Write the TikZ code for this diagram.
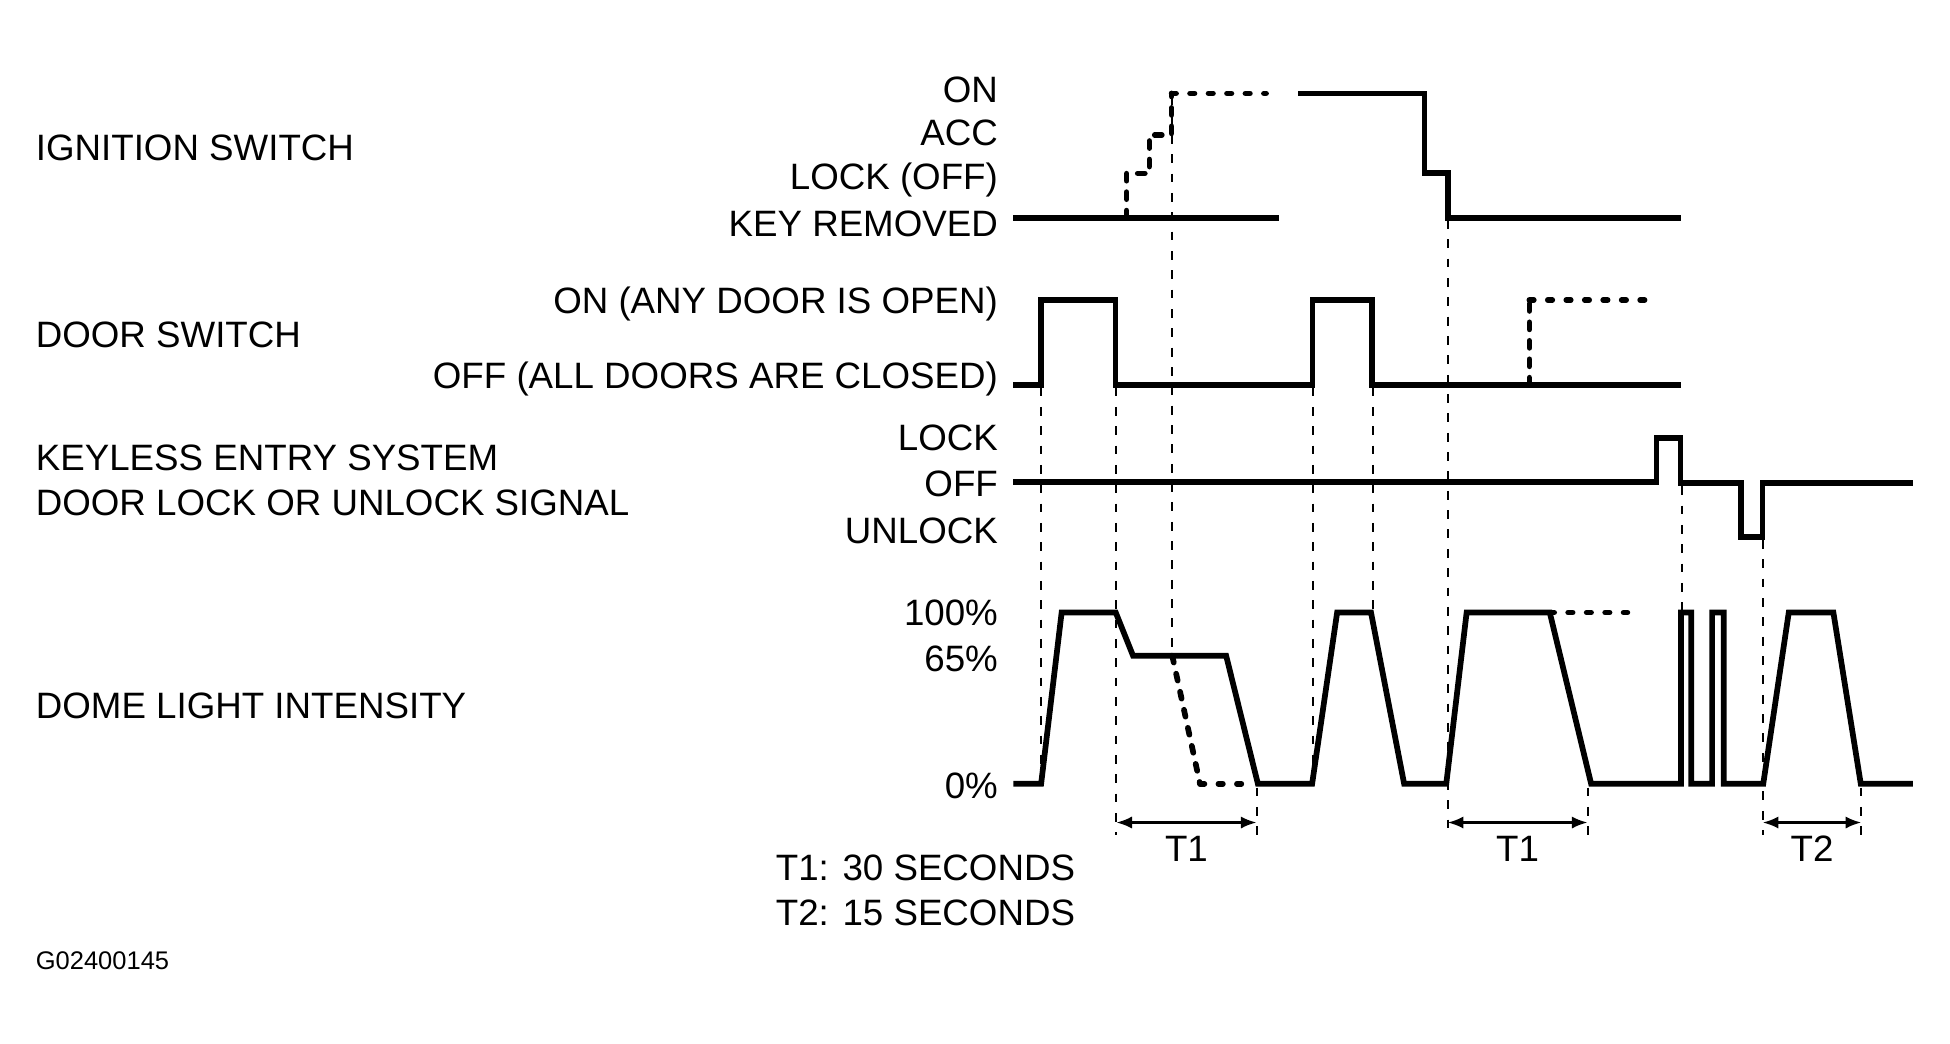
\documentclass[tikz,border=0pt]{standalone}
\usepackage{fontspec}
\setmainfont{Liberation Sans}
\usetikzlibrary{arrows.meta}
\tikzset{
  >={Latex[length=3.6pt,width=2.8pt]},
  signal/.style={line width=1.3pt, line join=miter},
  dashsig/.style={signal, line cap=round, dash pattern=on 1.6pt off 2.6pt},
  dotsig/.style={signal, line cap=round, dash pattern=on 1pt off 3.2pt},
  guide/.style={line width=0.5pt, dash pattern=on 2pt off 2.4pt},
  dimline/.style={line width=0.6pt, <->},
  lbl/.style={font=\fontsize{8.35}{10}\selectfont, inner sep=0pt, text height=5.98pt, text depth=0pt},
  rlbl/.style={lbl, anchor=east},
  llbl/.style={lbl, anchor=west},
}

\begin{document}
\begin{tikzpicture}[x=0.01cm, y=-0.01cm]
  \useasboundingbox (0,0) rectangle (1560,835);

  % signal names
  \node[llbl] (ign) at (28,118) {IGNITION SWITCH};
  \node[llbl] (door) at (28,267.8) {DOOR SWITCH};
  \node[llbl] (keyless) at (28,365.8) {KEYLESS ENTRY SYSTEM};
  \node[llbl] (lockunlock) at (28,402) {DOOR LOCK OR UNLOCK SIGNAL};
  \node[llbl] (dome) at (28,564) {DOME LIGHT INTENSITY};

  % levels
  \node[rlbl] (ign-on) at (799,71.5) {ON};
  \node[rlbl] (ign-acc) at (799,106.2) {ACC};
  \node[rlbl] (ign-lock) at (799,140.8) {LOCK (OFF)};
  \node[rlbl] (ign-key) at (799,178.5) {KEY REMOVED};
  \node[rlbl] (door-on) at (799,240.5) {ON (ANY DOOR IS OPEN)};
  \node[rlbl] (door-off) at (799,300.5) {OFF (ALL DOORS ARE CLOSED)};
  \node[rlbl] (kl-lock) at (799,349.5) {LOCK};
  \node[rlbl] (kl-off) at (799,386.5) {OFF};
  \node[rlbl] (kl-unlock) at (799,424.5) {UNLOCK};
  \node[rlbl] (dome-full) at (799,489.5) {100\%};
  \node[rlbl] (dome-mid) at (799,527) {65\%};
  \node[rlbl] (dome-zero) at (799,628) {0\%};

  % ignition switch
  \draw[signal] (810.7,174.1) -- (1023.5,174.1);
  \draw[dashsig] (901.3,174.1) -- (901.3,138.7) -- (919.5,138.7) -- (919.5,108) -- (937.3,108) -- (937.3,74.7);
  \draw[dotsig] (937.3,74.7) -- (1012.8,74.7);
  \draw[signal] (1038.7,74.7) -- (1139.5,74.7) -- (1139.5,138.4) -- (1158.4,138.4) -- (1158.4,174.1) -- (1344.5,174.1);

  % door switch
  \draw[signal] (810.7,307.8) -- (832.8,307.8) -- (832.8,240) -- (892.5,240) -- (892.5,307.8)
    -- (1049.9,307.8) -- (1049.9,240) -- (1097.8,240) -- (1097.8,307.8) -- (1344.5,307.8);
  \draw[dashsig] (1223.5,307.8) -- (1223.5,240);
  \draw[dotsig] (1223.5,240) -- (1325.3,240);

  % keyless entry
  \draw[signal] (810.7,385.3) -- (1325.3,385.3) -- (1325.3,350.1) -- (1344.5,350.1) -- (1344.5,386.5)
    -- (1392.8,386.5) -- (1392.8,429.3) -- (1410.1,429.3) -- (1410.1,386.5) -- (1530.3,386.5);

  % dome light
  \draw[signal] (810.7,627) -- (832.9,627) -- (849.3,490) -- (892.6,490) -- (906.4,524.5)
    -- (980.9,524.5) -- (1006.3,627) -- (1049.7,627) -- (1069.7,490) -- (1096.8,490)
    -- (1123.3,627) -- (1157,627) -- (1173.3,490) -- (1239.8,490) -- (1272.9,627)
    -- (1344.8,627) -- (1344.8,490) -- (1353,490) -- (1353,627) -- (1369.7,627)
    -- (1369.7,490) -- (1379,490) -- (1379,627) -- (1410.6,627) -- (1431,490)
    -- (1466.7,490) -- (1488.6,627) -- (1530.3,627);
  \draw[dashsig] (937.8,524.5) -- (960,627);
  \draw[dotsig] (960,627) -- (1000.4,627);
  \draw[dotsig] (1239.8,490) -- (1301.9,490);

  % guides
  \draw[guide] (832.8,310) -- (832.8,627);
  \draw[guide] (893,310) -- (893,668);
  \draw[guide] (937.3,77) -- (937.3,524.5);
  \draw[guide] (1005.3,630) -- (1005.3,668);
  \draw[guide] (1050.7,310) -- (1050.7,627);
  \draw[guide] (1098.7,310) -- (1098.7,490);
  \draw[guide] (1158.1,176) -- (1158.1,668);
  \draw[guide] (1270.1,630) -- (1270.1,668);
  \draw[guide] (1345.5,389) -- (1345.5,490);
  \draw[guide] (1410.1,432) -- (1410.1,668);
  \draw[guide] (1489.1,630) -- (1489.1,668);

  % times
  \coordinate (t1a) at (893,658);
  \coordinate (t1b) at (1005.3,658);
  \coordinate (t1c) at (1158.1,658);
  \coordinate (t1d) at (1270.1,658);
  \coordinate (t2a) at (1410.1,658);
  \coordinate (t2b) at (1489.1,658);
  \draw[dimline] (t1a) -- node[lbl, below=2.6pt] (t1-first) {T1} (t1b);
  \draw[dimline] (t1c) -- node[lbl, below=2.6pt] (t1-second) {T1} (t1d);
  \draw[dimline] (t2a) -- node[lbl, below=2.6pt] (t2-lbl) {T2} (t2b);

  \node[llbl] (t1-note) at (620,693.5) {T1: 30 SECONDS};
  \node[llbl] (t2-note) at (620,729.5) {T2: 15 SECONDS};
  \node[anchor=west, inner sep=0pt, font=\fontsize{5.8}{7}\selectfont] (code) at (28,768.5) {G02400145};
\end{tikzpicture}
\end{document}
